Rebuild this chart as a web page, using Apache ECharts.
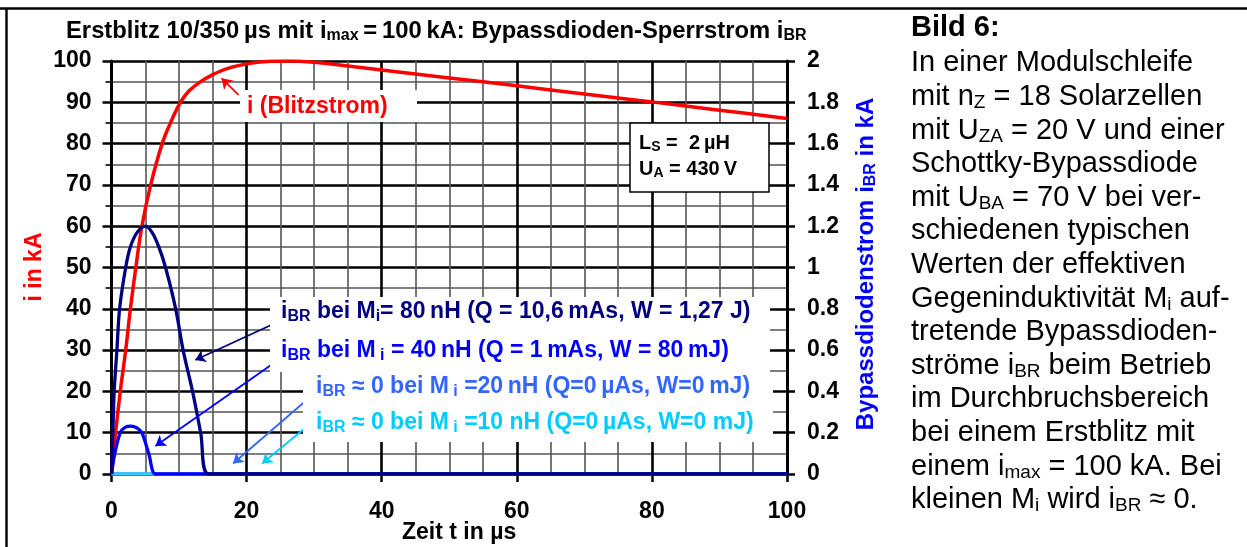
<!DOCTYPE html>
<html>
<head>
<meta charset="utf-8">
<script src="https://cdn.jsdelivr.net/npm/echarts@6/dist/echarts.min.js"></script>
<style>
html,body{margin:0;padding:0;background:#fff;}
#main{width:1247px;height:547px;}
</style>
</head>
<body>
<div id="main"></div>
<script>
var FONT='Arial, "Liberation Sans", Helvetica, sans-serif';

// Blitzstrom i in kA (linke Achse)
var tBlitz=[0,0.6,1.3,2.1,2.8,3.6,4.5,5.8,7.5,9,10.2,11.5,13.2,15,17,20,23,26,30,35,40,50,60,70,80,90,100];
var iBlitz=[0,10,20,30,40,50,60,70,80,86,90,92.8,95,96.7,98.1,99.3,99.9,100,99.7,98.8,97.8,95.9,94,92,90.1,88.1,86.1];

// Bypassdiodenstrom in kA (rechte Achse)
var t80=[0,0.2,0.4,0.8,1.2,2.1,2.8,3.8,5,6,7,8,9.5,10.6,12,13.2,14.4,20,100];
var i80=[0,0.2,0.4,0.6,0.8,1.0,1.1,1.17,1.2,1.17,1.1,1.0,0.8,0.6,0.4,0.2,0,0,0];
var t40=[0,0.5,1.3,2.0,2.9,3.8,4.5,5.5,6.5,8,100];
var i40=[0,0.1,0.2,0.226,0.232,0.222,0.2,0.1,0,0,0];
var t20=[0,100];
var i20=[0,0];
var t10=[0,100];
var i10=[0,0];

// Pfeile (Anfang, Spitze) in Achsenwerten
var arrowBlitz=[[18.8,91.8],[16.3,95.8]];
var arrow80=[[24.2,0.73],[12.4,0.552]];
var arrow40=[[24.2,0.541],[6.5,0.136]];
var arrow20=[[29.2,0.367],[18.0,0.051]];
var arrow10=[[29.2,0.237],[22.3,0.051]];

var textLines=[
 'In einer Modulschleife',
 'mit n{s|Z} = 18 Solarzellen',
 'mit U{s|ZA} = 20 V und einer',
 'Schottky-Bypassdiode',
 'mit U{s|BA} = 70 V bei ver-',
 'schiedenen typischen',
 'Werten der effektiven',
 'Gegeninduktivität M{s|i} auf-',
 'tretende Bypassdioden-',
 'ströme i{s|BR} beim Betrieb',
 'im Durchbruchsbereich',
 'bei einem Erstblitz mit',
 'einem i{s|max} = 100 kA. Bei',
 'kleinen M{s|i} wird i{s|BR} \u2248 0.'
];

function pairs(t,v){
  var out=[];
  for(var k=0;k<t.length;k++){out.push([t[k],v[k]]);}
  return out;
}
function label(x,y,text,size,color,weight,subSize,rot){
  var el={type:'text',x:x,y:y,z:100,silent:true,
    style:{text:text,fontSize:size,fontWeight:weight,fontFamily:FONT,fill:color,
      align:rot?'center':'left',verticalAlign:'middle',lineHeight:size+2,
      rich:{s:{fontSize:subSize,fontWeight:weight,fontFamily:FONT,fill:color,lineHeight:subSize,verticalAlign:'bottom'}}}};
  if(rot){el.rotation=rot;}
  return el;
}
function box(x,y,w,h,stroke){
  return {type:'rect',z:90,silent:true,shape:{x:x,y:y,width:w,height:h},
    style:{fill:'#fff',stroke:stroke||null,lineWidth:stroke?1.5:0}};
}
function arrow(color,a){
  return {silent:true,symbol:['none','arrow'],symbolSize:10,animation:false,
    lineStyle:{color:color,width:1.8,type:'solid'},label:{show:false},emphasis:{disabled:true},
    data:[[{coord:a[0]},{coord:a[1]}]]};
}

var graphics=[
  {type:'line',silent:true,z:100,shape:{x1:0,y1:8.5,x2:1247,y2:8.5},style:{stroke:'#000',lineWidth:2.6}},
  {type:'line',silent:true,z:100,shape:{x1:6.5,y1:8,x2:6.5,y2:547},style:{stroke:'#000',lineWidth:2.4}},
  label(66,31,'Erstblitz 10/350\u2009\u00b5s mit i{s|max}\u2009=\u2009100\u2009kA: Bypassdioden-Sperrstrom i{s|BR}',23.8,'#000','bold',16),
  label(35,267,'i in kA',23,'#ff0000','bold',15,Math.PI/2),
  label(866,264,'Bypassdiodenstrom i{s|BR} in kA',24,'#0000ff','bold',16,Math.PI/2),
  label(402,533,'Zeit t in \u00b5s',23,'#000','bold',15),
  box(240,90,177,32),
  label(247,107,'i (Blitzstrom)',23,'#ff0000','bold',15),
  box(630,123,139,69,'#000'),
  label(639,143,'L{s|S} =  2\u2009\u00b5H',20,'#000','bold',14),
  label(639,169,'U{s|A} = 430\u2009V',20,'#000','bold',14),
  box(270,297,500,75),
  box(303,372,470,70),
  label(281,312,'i{s|BR} bei M{s|i}= 80\u2009nH (Q = 10,6\u2009mAs, W = 1,27 J)',23,'#000080','bold',16),
  label(281,351,'i{s|BR} bei M{s| i} = 40\u2009nH (Q = 1\u2009mAs, W = 80\u2009mJ)',23,'#0000ff','bold',16),
  label(316,387,'i{s|BR} \u2248 0 bei M{s| i} =20\u2009nH (Q=0\u2009\u00b5As, W=0\u2009mJ)',23,'#3366ff','bold',16),
  label(316,423,'i{s|BR} \u2248 0 bei M{s| i} =10 nH (Q=0\u2009\u00b5As, W=0 mJ)',23,'#00ccff','bold',16),
  label(911,28,'Bild 6:',29,'#000','bold',19)
];
textLines.forEach(function(line,index){
  graphics.push(label(911,63.3+33.6*index,line,29,'#000','normal',19));
});

var myChart=echarts.init(document.getElementById('main'));
var option={
  backgroundColor:'#fff',
  animation:false,
  grid:{left:111.5,right:460,top:61,bottom:73},
  xAxis:{type:'value',min:0,max:100,interval:20,
    axisLine:{onZero:false,lineStyle:{color:'#000',width:3}},
    axisTick:{show:true,length:8,lineStyle:{color:'#000',width:2.5}},
    minorTick:{show:false,splitNumber:4},
    splitLine:{show:true,lineStyle:{color:'#000',width:2.6}},
    minorSplitLine:{show:true,lineStyle:{color:'#555',width:1.6}},
    axisLabel:{fontSize:23,fontWeight:'bold',color:'#000',fontFamily:FONT,margin:26}
  },
  yAxis:[
    {type:'value',min:0,max:100,interval:10,
      axisLine:{show:true,lineStyle:{color:'#000',width:3}},
      axisTick:{show:true,length:9,lineStyle:{color:'#000',width:2.5}},
      minorTick:{show:true,splitNumber:2,length:6,lineStyle:{color:'#000',width:1.6}},
      splitLine:{show:true,lineStyle:{color:'#000',width:2.6}},
      minorSplitLine:{show:true,lineStyle:{color:'#555',width:1.6}},
      axisLabel:{fontSize:23,fontWeight:'bold',color:'#000',fontFamily:FONT,margin:20}
    },
    {type:'value',position:'right',min:0,max:2,interval:0.2,
      axisLine:{show:true,lineStyle:{color:'#000',width:3}},
      axisTick:{show:true,length:8,lineStyle:{color:'#000',width:2.5}},
      splitLine:{show:false},
      axisLabel:{fontSize:23,fontWeight:'bold',color:'#000',fontFamily:FONT,margin:20}
    }
  ],
  graphic:graphics,
  series:[
    {name:'20nH',type:'line',yAxisIndex:1,data:pairs(t20,i20),symbol:'none',
      lineStyle:{color:'#3366ff',width:3.3},markLine:arrow('#3366ff',arrow20)},
    {name:'10nH',type:'line',yAxisIndex:1,data:pairs(t10,i10),symbol:'none',
      lineStyle:{color:'#33ccff',width:3.3},markLine:arrow('#00ccff',arrow10)},
    {name:'Blitz',type:'line',yAxisIndex:0,data:pairs(tBlitz,iBlitz),symbol:'none',smooth:0.4,
      lineStyle:{color:'#ff0000',width:3.5},markLine:arrow('#ff0000',arrowBlitz)},
    {name:'40nH',type:'line',yAxisIndex:1,data:pairs(t40,i40),symbol:'none',smooth:0.35,
      lineStyle:{color:'#0000ff',width:3.3},markLine:arrow('#0000ff',arrow40)},
    {name:'80nH',type:'line',yAxisIndex:1,data:pairs(t80,i80),symbol:'none',smooth:0.35,
      lineStyle:{color:'#000080',width:3.3},markLine:arrow('#000080',arrow80)}
  ]
};
myChart.setOption(option);
</script>
</body>
</html>
